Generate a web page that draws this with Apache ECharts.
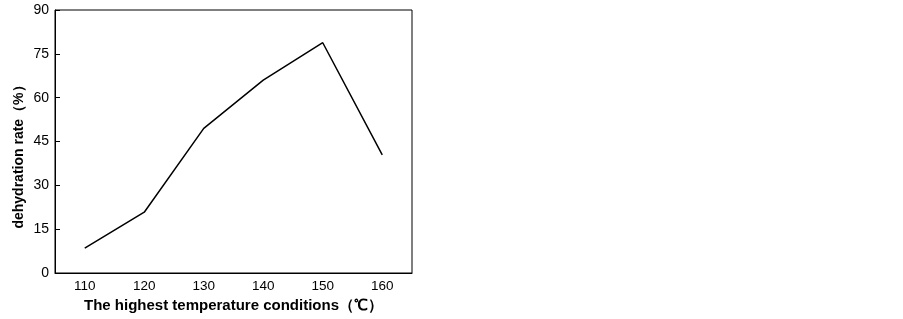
<!DOCTYPE html>
<html><head><meta charset="utf-8">
<script src="https://cdn.jsdelivr.net/npm/echarts@6/dist/echarts.min.js"></script>
<style>html,body{margin:0;padding:0;background:#fff}#c{width:903px;height:319px}</style>
</head><body><div id="c"></div>
<script>
const categories = ['110','120','130','140','150','160'];
const dehydrationRate = [8.5, 20.8, 49.5, 66.0, 78.8, 40.4];
const yTicks = [0, 15, 30, 45, 60, 75, 90];
const xTitle = 'The highest temperature conditions（℃）';
const yTitle = 'dehydration rate（%）';

const chart = echarts.init(document.getElementById('c'), null, {renderer:'canvas'});
chart.setOption({
  animation:false,
  backgroundColor:'#fff',
  grid:{left:55, top:10, right:491, bottom:46, show:true, borderColor:'#000', borderWidth:1,
        backgroundColor:'transparent', outerBoundsMode:'none', containLabel:false},
  xAxis:{
    type:'category', data:categories, boundaryGap:true,
    name:xTitle, nameLocation:'middle', nameGap:18,
    nameTextStyle:{fontFamily:'Liberation Sans, Arial', fontWeight:'bold', fontSize:15, color:'#000', verticalAlign:'top'},
    axisLine:{lineStyle:{color:'#000', width:1}},
    axisTick:{inside:true, alignWithLabel:true, length:5, lineStyle:{color:'#000'}},
    axisLabel:{margin:6, fontFamily:'Liberation Sans, Arial', fontSize:13.5, color:'#000'},
    splitLine:{show:false}
  },
  yAxis:{
    type:'value', min:yTicks[0], max:yTicks[yTicks.length-1], interval:15,
    name:yTitle, nameLocation:'middle', nameGap:29,
    nameTextStyle:{fontFamily:'Liberation Sans, Arial', fontWeight:'bold', fontSize:14, color:'#000', padding:[0,24,0,0]},
    axisLine:{show:true, lineStyle:{color:'#000', width:1}},
    axisTick:{show:true, inside:true, length:5, lineStyle:{color:'#000'}},
    axisLabel:{margin:6, fontFamily:'Liberation Sans, Arial', fontSize:14, color:'#000'},
    splitLine:{show:false}
  },
  series:[{
    type:'line', data:dehydrationRate, symbol:'none',
    lineStyle:{color:'#000', width:1.5}
  }]
});
</script></body></html>
